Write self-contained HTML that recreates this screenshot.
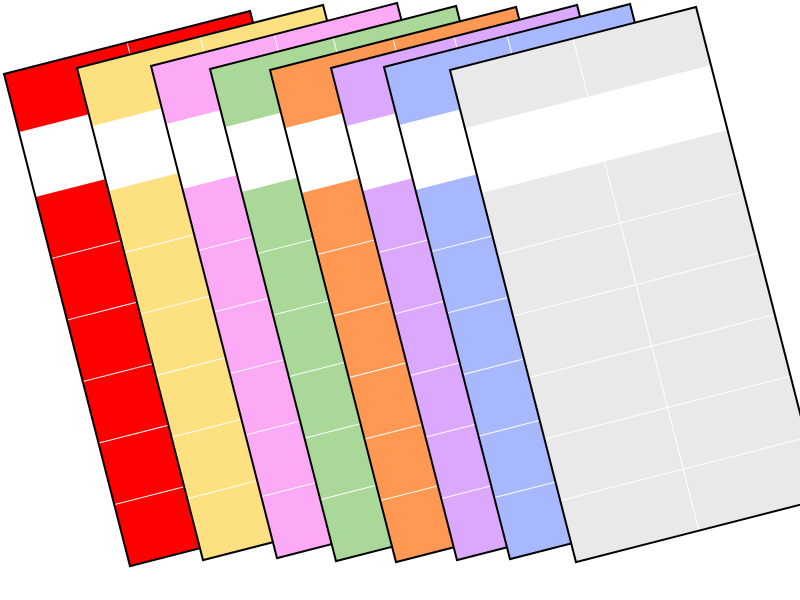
<!DOCTYPE html>
<html><head><meta charset="utf-8"><style>html,body{margin:0;padding:0;background:#fff}svg{display:block}</style></head>
<body>
<svg width="800" height="600" viewBox="0 0 800 600" xmlns="http://www.w3.org/2000/svg">
<defs>
<g id="grid" stroke="#fff" stroke-width="1">
<line x1="0" y1="190.5" x2="254" y2="190.5"/>
<line x1="0" y1="254" x2="254" y2="254"/>
<line x1="0" y1="317.5" x2="254" y2="317.5"/>
<line x1="0" y1="381" x2="254" y2="381"/>
<line x1="0" y1="444.5" x2="254" y2="444.5"/>
<line x1="127" y1="0" x2="127" y2="508"/>
</g>
</defs>
<g transform="translate(4,74) rotate(-14.36)"><rect width="254" height="508" fill="#ff0000"/><use href="#grid"/><rect y="60" width="254" height="67" fill="#fff"/><rect width="254" height="508" fill="none" stroke="#000" stroke-width="2"/></g>
<g transform="translate(77,68) rotate(-14.36)"><rect width="254" height="508" fill="#fde080"/><use href="#grid"/><rect y="60" width="254" height="67" fill="#fff"/><rect width="254" height="508" fill="none" stroke="#000" stroke-width="2"/></g>
<g transform="translate(151,66) rotate(-14.36)"><rect width="254" height="508" fill="#fcaaf6"/><use href="#grid"/><rect y="60" width="254" height="67" fill="#fff"/><rect width="254" height="508" fill="none" stroke="#000" stroke-width="2"/></g>
<g transform="translate(210,69) rotate(-14.36)"><rect width="254" height="508" fill="#a9d899"/><use href="#grid"/><rect y="60" width="254" height="67" fill="#fff"/><rect width="254" height="508" fill="none" stroke="#000" stroke-width="2"/></g>
<g transform="translate(270,70) rotate(-14.36)"><rect width="254" height="508" fill="#fe9852"/><use href="#grid"/><rect y="60" width="254" height="67" fill="#fff"/><rect width="254" height="508" fill="none" stroke="#000" stroke-width="2"/></g>
<g transform="translate(331,68) rotate(-14.36)"><rect width="254" height="508" fill="#dca8fe"/><use href="#grid"/><rect y="60" width="254" height="67" fill="#fff"/><rect width="254" height="508" fill="none" stroke="#000" stroke-width="2"/></g>
<g transform="translate(384,67) rotate(-14.36)"><rect width="254" height="508" fill="#a8b8fe"/><use href="#grid"/><rect y="60" width="254" height="67" fill="#fff"/><rect width="254" height="508" fill="none" stroke="#000" stroke-width="2"/></g>
<g transform="translate(450,70) rotate(-14.36)"><rect width="254" height="508" fill="#e9e9e9"/><use href="#grid"/><rect y="60" width="254" height="67" fill="#fff"/><rect width="254" height="508" fill="none" stroke="#000" stroke-width="2"/></g>
</svg>
</body></html>
